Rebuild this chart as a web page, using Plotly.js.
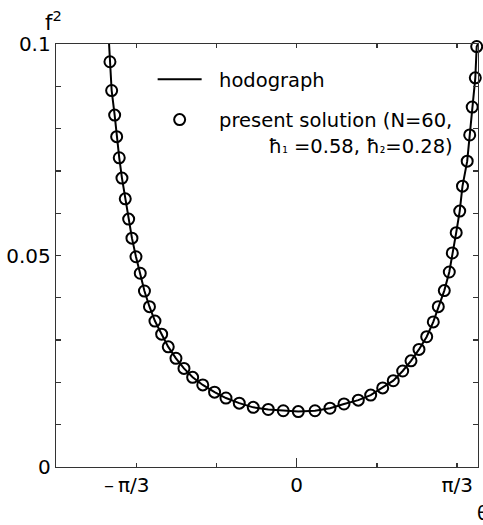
<!DOCTYPE html>
<html>
<head>
<meta charset="utf-8">
<script src="https://cdn.plot.ly/plotly-3.0.1.min.js"></script>
<style>html,body{margin:0;padding:0;background:#fff;}#chart{width:483px;height:525px;}</style>
</head>
<body>
<div id="chart"></div>
<script>
// Present solution (circles): theta (rad) and f^2
const solTheta = [-1.2187, -1.2076, -1.1880, -1.1749, -1.1580, -1.1403, -1.1188, -1.0966, -1.0751, -1.0489,
  -1.0209, -0.9935, -0.9608, -0.9249, -0.8812, -0.8381, -0.7879, -0.7356, -0.6789, -0.6129,
  -0.5359, -0.4615, -0.3747, -0.2833, -0.1854, -0.0875, 0.0104, 0.1195, 0.2174, 0.3087,
  0.4021, 0.4830, 0.5614, 0.6305, 0.6919, 0.7461, 0.7983, 0.8486, 0.8916, 0.9243,
  0.9634, 0.9961, 1.0157, 1.0411, 1.0640, 1.0822, 1.1129, 1.1292, 1.1456, 1.1658, 1.1749];
const solF2 = [0.0958, 0.0890, 0.0832, 0.0781, 0.0731, 0.0683, 0.0634, 0.0586, 0.0541, 0.0497,
  0.0458, 0.0416, 0.0379, 0.0345, 0.0314, 0.0284, 0.0257, 0.0233, 0.0212, 0.0194,
  0.0177, 0.0163, 0.0151, 0.0141, 0.0136, 0.0133, 0.0131, 0.0133, 0.0139, 0.0149,
  0.0158, 0.0170, 0.0187, 0.0204, 0.0227, 0.0251, 0.0278, 0.0308, 0.0343, 0.0379,
  0.0417, 0.0461, 0.0506, 0.0554, 0.0605, 0.0664, 0.0723, 0.0785, 0.0851, 0.0920, 0.0994];

// Hodograph (solid line)
const hodoTheta = [-1.2245, -1.2187, -1.2076, -1.1880, -1.1749, -1.1580, -1.1403, -1.1188, -1.0966, -1.0751, -1.0489,
  -1.0209, -0.9935, -0.9608, -0.9249, -0.8812, -0.8381, -0.7879, -0.7356, -0.6789, -0.6129,
  -0.5359, -0.4615, -0.3747, -0.2833, -0.1854, -0.0875, 0.0104, 0.1195, 0.2174, 0.3087,
  0.4021, 0.4830, 0.5614, 0.6305, 0.6919, 0.7461, 0.7983, 0.8486, 0.8916, 0.9243,
  0.9634, 0.9961, 1.0157, 1.0411, 1.0640, 1.0822, 1.1129, 1.1292, 1.1456, 1.1658, 1.1749, 1.1830];
const hodoF2 = [0.1000, 0.0958, 0.0890, 0.0832, 0.0781, 0.0731, 0.0683, 0.0634, 0.0586, 0.0541, 0.0497,
  0.0458, 0.0416, 0.0379, 0.0345, 0.0314, 0.0284, 0.0257, 0.0233, 0.0212, 0.0194,
  0.0177, 0.0163, 0.0151, 0.0141, 0.0136, 0.0133, 0.0131, 0.0133, 0.0139, 0.0149,
  0.0158, 0.0170, 0.0187, 0.0204, 0.0227, 0.0251, 0.0278, 0.0308, 0.0343, 0.0379,
  0.0417, 0.0461, 0.0506, 0.0554, 0.0605, 0.0664, 0.0723, 0.0785, 0.0851, 0.0920, 0.0994, 0.1000];

// Tick labels
const xTickVals = [-Math.PI / 3, 0, Math.PI / 3];
const xTickText = ['\u2013\u2009\u03c0/3\u00a0\u00a0\u00a0', '0', '\u03c0/3'];
const yTickVals = [0, 0.05, 0.1];
const yTickText = ['0', '0.05', '0.1'];

const FONT = 'DejaVu Sans, Liberation Sans, Arial, sans-serif';
const AX = '#333';
const NB = '\u00a0';

const traces = [
  {
    x: hodoTheta, y: hodoF2, type: 'scatter', mode: 'lines',
    name: NB + NB + 'hodograph', legendgroup: 'a',
    line: {color: '#000', width: 2}
  },
  {
    x: solTheta, y: solF2, type: 'scatter', mode: 'markers',
    name: NB + NB + 'present solution (N=60,<br>' + NB.repeat(10) +
      '\u0127<span style="font-size:14px">\u2081</span> =0.58, \u0127<span style="font-size:14px">\u2082</span>=0.28)',
    legendgroup: 'b', cliponaxis: false,
    marker: {symbol: 'circle-open', size: 11, color: '#000', line: {width: 2, color: '#000'}}
  },
  {x: [0], y: [0], xaxis: 'x2', yaxis: 'y', type: 'scatter', mode: 'markers',
   marker: {opacity: 0}, showlegend: false, hoverinfo: 'skip'}
];

const layout = {
  width: 483, height: 525,
  margin: {l: 56, r: 5, t: 44, b: 58},
  paper_bgcolor: '#fff', plot_bgcolor: '#fff',
  font: {family: FONT, size: 20, color: '#000'},
  showlegend: true,
  legend: {
    x: 0.229, y: 0.962, xanchor: 'left', yanchor: 'top',
    bgcolor: 'rgba(0,0,0,0)', borderwidth: 0,
    font: {family: FONT, size: 19.5, color: '#000'},
    valign: 'top', tracegroupgap: 12, itemwidth: 44
  },
  xaxis: {
    range: [-Math.PI / 2, 1.1834], showgrid: false, zeroline: false,
    showline: true, linecolor: AX, linewidth: 1.3, mirror: 'ticks',
    ticks: 'inside', ticklen: 4, tickwidth: 1.3, tickcolor: AX,
    tickvals: xTickVals, ticktext: xTickText,
    tickfont: {family: FONT, size: 20, color: '#000'},
    minor: {dtick: Math.PI / 6, tick0: 0, ticks: 'inside', ticklen: 4, tickwidth: 1.3, tickcolor: AX, showgrid: false}
  },
  xaxis2: {
    overlaying: 'x', matches: 'x', anchor: 'y', side: 'bottom',
    showgrid: false, zeroline: false, showline: false,
    ticks: 'inside', ticklen: 9, tickwidth: 1.3, tickcolor: AX,
    tickvals: [0], showticklabels: false
  },
  yaxis: {
    range: [0, 0.1], showgrid: false, zeroline: false,
    showline: true, linecolor: AX, linewidth: 1.3, mirror: 'ticks',
    ticks: 'inside', ticklen: 5, tickwidth: 1.3, tickcolor: AX,
    tickvals: yTickVals, ticktext: yTickText,
    tickfont: {family: FONT, size: 20, color: '#000'},
    minor: {dtick: 0.01, tick0: 0, ticks: 'inside', ticklen: 5, tickwidth: 1.3, tickcolor: AX, showgrid: false}
  },
  annotations: [
    {text: 'f<sup>2</sup>', xref: 'paper', yref: 'paper', x: -0.03, y: 1.055,
     xanchor: 'left', yanchor: 'middle', showarrow: false, font: {family: FONT, size: 21, color: '#000'}},
    {text: '\u03b8', xref: 'paper', yref: 'paper', x: 0.992, y: -0.108,
     xanchor: 'left', yanchor: 'middle', showarrow: false, font: {family: FONT, size: 19, color: '#000'}}
  ]
};

Plotly.newPlot('chart', traces, layout, {displayModeBar: false, staticPlot: true});
</script>
</body>
</html>
